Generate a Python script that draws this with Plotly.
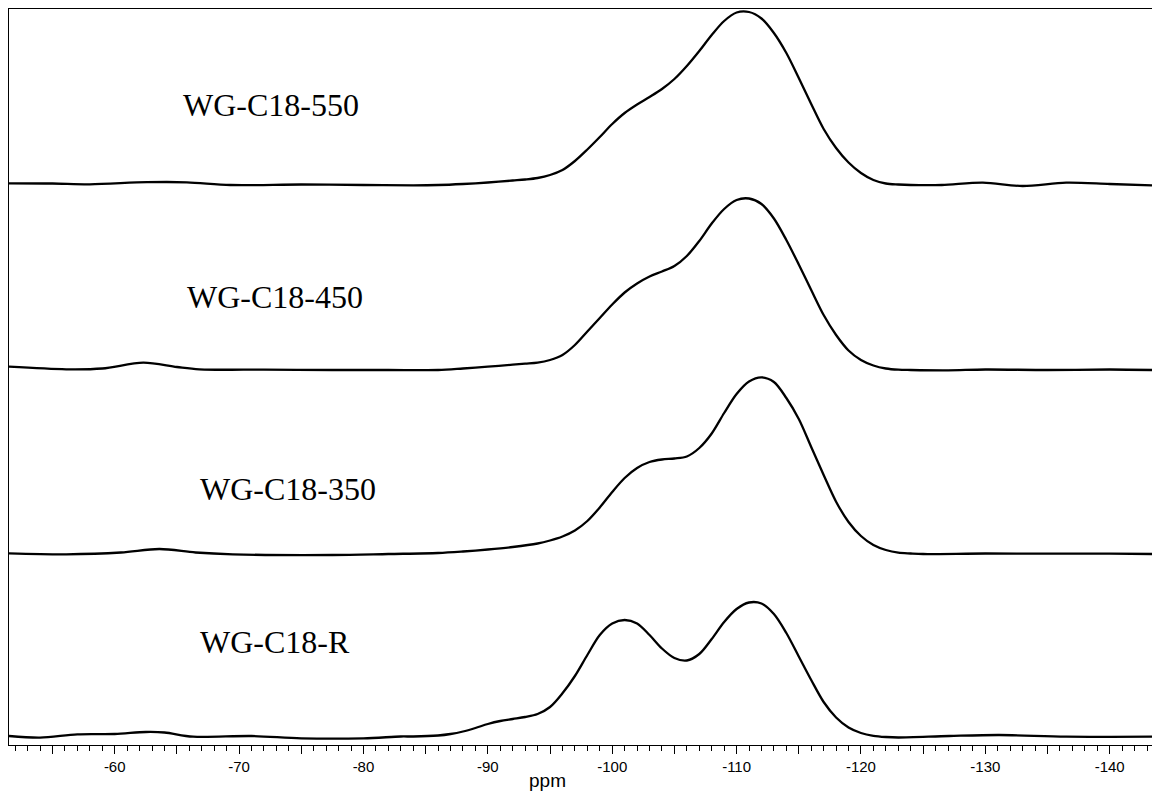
import plotly.graph_objects as go

# ---- data (chemical shift in ppm, intensity in arbitrary units above each baseline) ----
ppm_550 = [-51.5, -55.0, -58.0, -62.6, -65.8, -69.3, -75.0, -80.0, -84.0, -86.0, -88.0, -90.0,
           -92.0, -93.0, -94.0, -95.0, -96.0, -97.0, -98.0, -99.0, -100.0, -101.0, -102.0,
           -103.0, -104.0, -105.0, -106.0, -107.0, -108.0, -109.0, -110.0, -111.0,
           -112.0, -113.0, -114.0, -115.0, -116.0, -117.0, -118.0, -119.0, -120.0, -121.0,
           -122.0, -123.0, -124.0, -126.5, -129.8, -133.0, -136.5, -140.0, -143.4]
int_550 = [1.7, 1.5, 0.7, 2.8, 2.7, 0.0, 0.5, 0.0, -0.3, 0.0, 1.0, 2.5,
           4.5, 5.5, 7.0, 10.0, 15.0, 24.0, 35.5, 48.0, 61.0, 72.0, 80.5,
           88.0, 96.0, 106.0, 119.0, 134.0, 150.0, 164.0, 172.5, 173.0,
           166.5, 152.0, 132.0, 107.0, 81.0, 56.0, 37.0, 22.5, 12.0, 5.0,
           1.5, 0.5, 0.0, 0.0, 2.3, -1.0, 2.3, 1.0, -0.3]

ppm_450 = [-51.5, -56.1, -59.0, -62.3, -65.0, -66.8, -72.0, -77.5, -82.0, -86.0, -88.0, -90.0,
           -92.0, -93.0, -94.0, -95.0, -96.0, -97.0, -98.0, -99.0, -100.0, -101.0, -102.0,
           -103.0, -104.0, -105.0, -106.0, -107.0, -108.0, -109.0, -110.0, -111.0,
           -112.0, -113.0, -114.0, -115.0, -116.0, -117.0, -118.0, -119.0, -120.0, -121.0,
           -122.0, -123.0, -124.0, -127.0, -130.0, -135.0, -140.0, -143.4]
int_450 = [3.3, 0.7, 1.5, 7.3, 3.0, 0.7, 0.3, 0.0, 0.0, 0.0, 1.5, 3.3,
           5.3, 6.3, 7.3, 10.0, 15.0, 25.0, 38.5, 52.0, 65.5, 77.5, 86.5,
           93.5, 98.5, 104.0, 114.0, 129.0, 146.5, 161.0, 170.0, 171.5,
           166.0, 151.5, 130.0, 105.5, 80.0, 55.0, 35.0, 19.5, 10.0, 4.5,
           1.5, 0.3, 0.0, -0.3, 0.5, 0.0, 0.5, 0.0]

ppm_350 = [-51.5, -56.1, -60.5, -63.6, -66.5, -69.5, -77.5, -82.0, -86.0, -88.0, -90.0, -92.0,
           -94.0, -95.0, -96.0, -97.0, -98.0, -99.0, -100.0, -101.0, -102.0, -103.0, -104.0,
           -105.0, -106.0, -107.0, -108.0, -109.0, -110.0, -111.0, -112.0, -113.0, -114.0,
           -115.0, -116.0, -117.0, -118.0, -119.0, -120.0, -121.0, -122.0, -123.0, -124.0,
           -125.0, -130.0, -135.0, -140.0, -143.4]
int_350 = [0.7, -0.3, 1.5, 5.0, 1.5, -0.3, -1.0, 0.0, 1.0, 2.5, 4.5, 7.0,
           10.5, 13.5, 17.5, 23.5, 33.0, 46.5, 62.0, 76.0, 86.0, 92.0, 94.5,
           95.5, 97.5, 106.0, 120.5, 141.0, 160.0, 172.5, 176.7, 172.0, 156.0,
           135.0, 107.0, 79.0, 52.3, 32.0, 18.0, 9.0, 4.0, 1.3, 0.5,
           0.0, 0.5, 0.3, 0.3, 0.0]

ppm_R = [-51.5, -54.0, -57.0, -60.0, -62.5, -64.0, -66.3, -71.0, -75.0, -80.0, -83.0, -84.0,
         -86.0, -87.0, -88.0, -89.0, -90.0, -91.0, -92.0, -93.0, -94.0, -95.0, -96.0,
         -97.0, -98.0, -99.0, -100.0, -101.0, -102.0, -103.0, -104.0, -105.0, -106.0,
         -107.0, -108.0, -109.0, -110.0, -111.0, -112.0, -113.0, -114.0,
         -115.0, -116.0, -117.0, -118.0, -119.0, -120.0, -121.0, -122.0, -123.0, -127.1,
         -131.1, -136.5, -143.4]
int_R = [2.0, 0.3, 3.7, 4.0, 6.0, 5.5, 1.3, 2.0, -0.3, -0.3, 1.5, 1.5,
         2.5, 4.0, 6.5, 10.0, 14.0, 17.0, 19.0, 21.0, 24.0, 31.0, 44.7,
         62.0, 83.0, 103.0, 114.5, 118.0, 114.5, 103.0, 89.5, 80.0, 77.5,
         84.0, 99.0, 116.0, 129.0, 135.5, 134.5, 124.0, 105.0,
         81.5, 58.0, 36.0, 20.5, 10.5, 5.0, 2.2, 1.0, 0.5, 2.0,
         3.0, 1.3, 1.3]

sample_names = ["WG-C18-550", "WG-C18-450", "WG-C18-350", "WG-C18-R"]
stack_offsets = [560, 375, 191, 7]
x_ticks = [-55, -60, -65, -70, -75, -80, -85, -90, -95, -100, -105, -110, -115, -120,
           -125, -130, -135, -140]

series_ppm = [ppm_550, ppm_450, ppm_350, ppm_R]
series_int = [int_550, int_450, int_350, int_R]

fig = go.Figure()
for xs, ys, off, name in zip(series_ppm, series_int, stack_offsets, sample_names):
    fig.add_trace(go.Scatter(
        x=xs, y=[v + off for v in ys], mode="lines", name=name,
        line=dict(color="black", width=2.3, shape="spline", smoothing=0.9),
        showlegend=False, hoverinfo="skip"))

# label positions (ppm, y) for each spectrum
label_pos = [(-72.6, 640), (-72.9, 448), (-73.9, 256), (-72.9, 103)]
for (lx, ly), name in zip(label_pos, sample_names):
    fig.add_annotation(x=lx, y=ly, xref="x", yref="y", text=name, showarrow=False,
                       font=dict(family="Liberation Serif", size=32, color="black"),
                       xanchor="center", yanchor="middle")

fig.add_annotation(x=(547 - 9) / 1143, y=-0.031, xref="paper", yref="paper", text="ppm",
                   showarrow=False, xanchor="center", yanchor="top",
                   font=dict(family="Liberation Sans", size=19, color="black"))

tick_text = [str(v) if v % 10 == 0 else "" for v in x_ticks]

fig.update_layout(
    width=1152, height=792,
    margin=dict(l=9, r=0, t=9, b=47),
    paper_bgcolor="white", plot_bgcolor="white",
    xaxis=dict(range=[-51.5, -143.4], showgrid=False, zeroline=False,
               showline=True, linecolor="black", linewidth=1, mirror=True,
               ticks="outside", ticklen=8, tickwidth=1, tickcolor="black",
               tickvals=x_ticks, ticktext=tick_text,
               tickfont=dict(family="Liberation Sans", size=15, color="black"),
               minor=dict(ticks="outside", dtick=1, tick0=0, ticklen=5,
                          tickwidth=1, tickcolor="black", showgrid=False)),
    yaxis=dict(range=[0, 736], showgrid=False, zeroline=False, showticklabels=False,
               showline=True, linecolor="black", linewidth=1, ticks=""),
)

fig.write_html("out.html", config={"displayModeBar": False},
               post_script="document.body.style.margin='0';"
                           "document.body.style.overflow='hidden';")
